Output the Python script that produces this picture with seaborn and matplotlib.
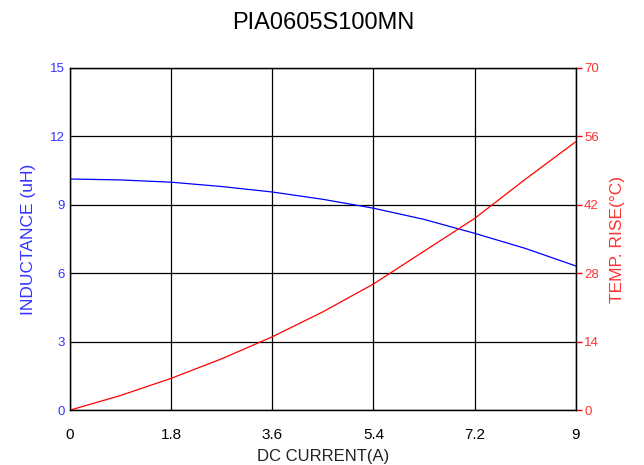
import matplotlib
matplotlib.use("Agg")
import matplotlib.pyplot as plt
import seaborn as sns
import pandas as pd

# values
current = [0, 0.9, 1.8, 2.7, 3.6, 4.5, 5.4, 6.3, 7.2, 8.1, 9]
inductance = [10.13, 10.09, 9.99, 9.80, 9.56, 9.24, 8.85, 8.36, 7.75, 7.09, 6.32]
temp_rise = [0, 3.0, 6.5, 10.5, 15.0, 20.1, 25.8, 32.5, 39.2, 47.2, 54.9]

x_ticks = [0, 1.8, 3.6, 5.4, 7.2, 9]
x_labels = ["0", "1.8", "3.6", "5.4", "7.2", "9"]
l_ticks = [0, 3, 6, 9, 12, 15]
t_ticks = [0, 14, 28, 42, 56, 70]

df = pd.DataFrame({"I": current, "L": inductance, "T": temp_rise})

sns.set_style("white")
plt.rcParams["font.family"] = ["Liberation Sans", "DejaVu Sans"]

fig, ax = plt.subplots(figsize=(6.44, 4.65), dpi=100)
fig.subplots_adjust(left=0.1087, right=0.894, top=0.854, bottom=0.118)
ax2 = ax.twinx()

sns.lineplot(data=df, x="I", y="L", ax=ax, color="#0000ff", linewidth=0.9)
sns.lineplot(data=df, x="I", y="T", ax=ax2, color="#ff0000", linewidth=0.9)

ax.set_xlim(0, 9)
ax.set_ylim(0, 15)
ax2.set_ylim(0, 70)
ax.set_xticks(x_ticks)
ax.set_xticklabels(x_labels)
ax.set_yticks(l_ticks)
ax2.set_yticks(t_ticks)

ax.grid(True, color="black", linewidth=0.9)
ax.set_axisbelow(True)
for sp in list(ax.spines.values()) + list(ax2.spines.values()):
    sp.set_color("black")
    sp.set_linewidth(0.9)

ax.tick_params(axis="x", length=0, labelsize=11, colors="black", pad=13)
ax.tick_params(axis="y", length=0, labelsize=9.5, labelcolor="#3333ff", pad=4)
ax2.tick_params(axis="y", length=4, width=1, color="#ff0000", direction="out",
                labelsize=9.5, labelcolor="#ff3333", pad=2)

ax.set_xlabel("DC CURRENT(A)", fontsize=12, color="#222222", labelpad=5)
ax.set_ylabel("INDUCTANCE (uH)", fontsize=12.5, color="#3333ff", labelpad=10)
ax2.set_ylabel("TEMP. RISE(°C)", fontsize=12.5, color="#ff3333", labelpad=8)
ax.set_title("PIA0605S100MN", fontsize=17, color="black", pad=28)

fig.savefig("out.png", dpi=100)
